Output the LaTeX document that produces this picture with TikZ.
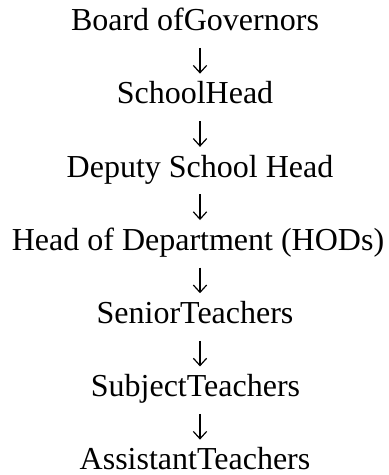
\documentclass[tikz,border=0pt]{standalone}
\usepackage{fontspec}
\setmainfont{Liberation Serif}
\usetikzlibrary{arrows.meta}
\begin{document}
\begin{tikzpicture}[x=0.75pt,y=-0.75pt,
  role/.style={anchor=base,inner sep=0pt,font=\fontsize{24pt}{27.6pt}\selectfont,text height=22.5pt,text depth=0pt},
  arr/.style={line width=0.9pt,-{Straight Barb[length=5.5pt,width=10pt,line width=0.9pt]},shorten <=12.75pt}]
\useasboundingbox (0,0) rectangle (389,475);
\coordinate (axis) at (200,0);
\node[role] (n1) at (195,30.7) {Board ofGovernors};
\node[role] (n2) at (195,103.9) {SchoolHead};
\node[role] (n3) at (200,177.1) {Deputy School Head};
\node[role] (n4) at (198,250.3) {Head of Department (HODs)};
\node[role] (n5) at (195,323.5) {SeniorTeachers};
\node[role] (n6) at (195.5,396.7) {SubjectTeachers};
\node[role] (n7) at (195,469.9) {AssistantTeachers};
\foreach \a/\b in {n1/n2,n2/n3,n3/n4,n4/n5,n5/n6,n6/n7}
  \draw[arr] (\a.south -| axis) -- (\b.north -| axis);
\end{tikzpicture}
\end{document}
